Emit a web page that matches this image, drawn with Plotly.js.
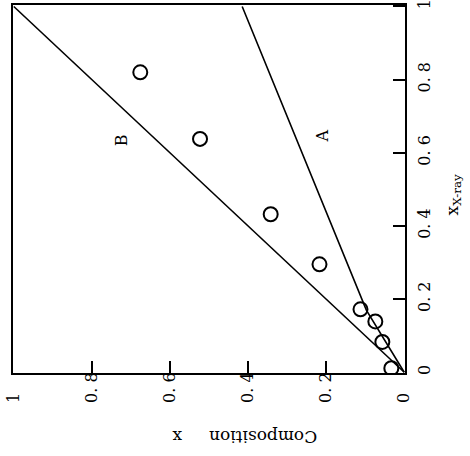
<!DOCTYPE html>
<html>
<head>
<meta charset="utf-8">
<script src="https://cdn.plot.ly/plotly-3.0.1.min.js"></script>
<style>html,body{margin:0;padding:0;background:#fff;}#chart{width:470px;height:456px;}</style>
</head>
<body>
<div id="chart"></div>
<script>
// Measured points: x_X-ray vs composition x
const xray = [0.820, 0.638, 0.432, 0.295, 0.172, 0.139, 0.083, 0.011];
const comp = [0.676, 0.523, 0.342, 0.217, 0.112, 0.074, 0.056, 0.033];
// Line A (bent near origin) and line B (x = x_X-ray)
const lineA_xray = [0, 0.17, 1];
const lineA_comp = [0, 0.097, 0.415];
const lineB_xray = [0, 1];
const lineB_comp = [0, 1];
// Ticks
const tickVals = [0, 0.2, 0.4, 0.6, 0.8, 1];
const compTickText = ["0\u00a0\u00a0\u00a0\u00a0", "0. 2", "0. 4", "0. 6", "0. 8", "1\u00a0\u00a0\u00a0\u00a0"];
const xrayTickText = ["0", "0. 2", "0. 4", "0. 6", "0. 8", "1"];
// Line labels
const labelText = ["A", "B"];
const labelComp = [0.209, 0.724];
const labelXray = [0.646, 0.633];

const font = "DejaVu Serif, Liberation Serif, serif";

const traces = [
  {x: lineB_comp, y: lineB_xray, mode: "lines", line: {color: "#000", width: 1.6}, hoverinfo: "skip"},
  {x: lineA_comp, y: lineA_xray, mode: "lines", line: {color: "#000", width: 1.6}, hoverinfo: "skip"},
  {x: comp, y: xray, mode: "markers",
   marker: {symbol: "circle-open", size: 14, color: "#000", line: {width: 2, color: "#000"}}}
];

const annotations = labelText.map((t, i) => ({
  text: t, x: labelComp[i], y: labelXray[i], xref: "x", yref: "y",
  showarrow: false, textangle: -90, font: {family: font, size: 16, color: "#000"}
}));
annotations.push({
  text: "Composition\u00a0\u00a0\u00a0\u00a0\u00a0x", x: 0.592, y: 0, yshift: -76, xref: "paper", yref: "paper",
  showarrow: false, textangle: 180, font: {family: font, size: 17, color: "#000"}
});
annotations.push({
  text: "x<sub>X-ray</sub>", x: 1, xshift: 62, y: 0.484, xref: "paper", yref: "paper",
  showarrow: false, textangle: -90, font: {family: font, size: 17, color: "#000"}
});

const layout = {
  width: 470, height: 456,
  margin: {l: 13, r: 65, t: 5, b: 83},
  paper_bgcolor: "#fff", plot_bgcolor: "#fff",
  showlegend: false,
  font: {family: font, color: "#000"},
  xaxis: {
    range: [1.002, -0.002], tickvals: tickVals, ticktext: compTickText,
    tickangle: -90, ticks: "inside", ticklen: 12, tickwidth: 2, tickcolor: "#000",
    showline: true, linewidth: 2, linecolor: "#000", mirror: true,
    showgrid: false, zeroline: false, tickfont: {family: font, size: 16, color: "#000"},
    ticklabelstandoff: -9, ticklabeloverflow: "allow"
  },
  yaxis: {
    range: [-0.002, 1.004], side: "right", tickvals: tickVals, ticktext: xrayTickText,
    tickangle: -90, ticks: "inside", ticklen: 12, tickwidth: 2, tickcolor: "#000",
    showline: true, linewidth: 2, linecolor: "#000", mirror: true,
    showgrid: false, zeroline: false, tickfont: {family: font, size: 16, color: "#000"},
    ticklabelstandoff: 4, ticklabeloverflow: "allow"
  },
  annotations: annotations
};

Plotly.newPlot("chart", traces, layout, {staticPlot: true});
</script>
</body>
</html>
